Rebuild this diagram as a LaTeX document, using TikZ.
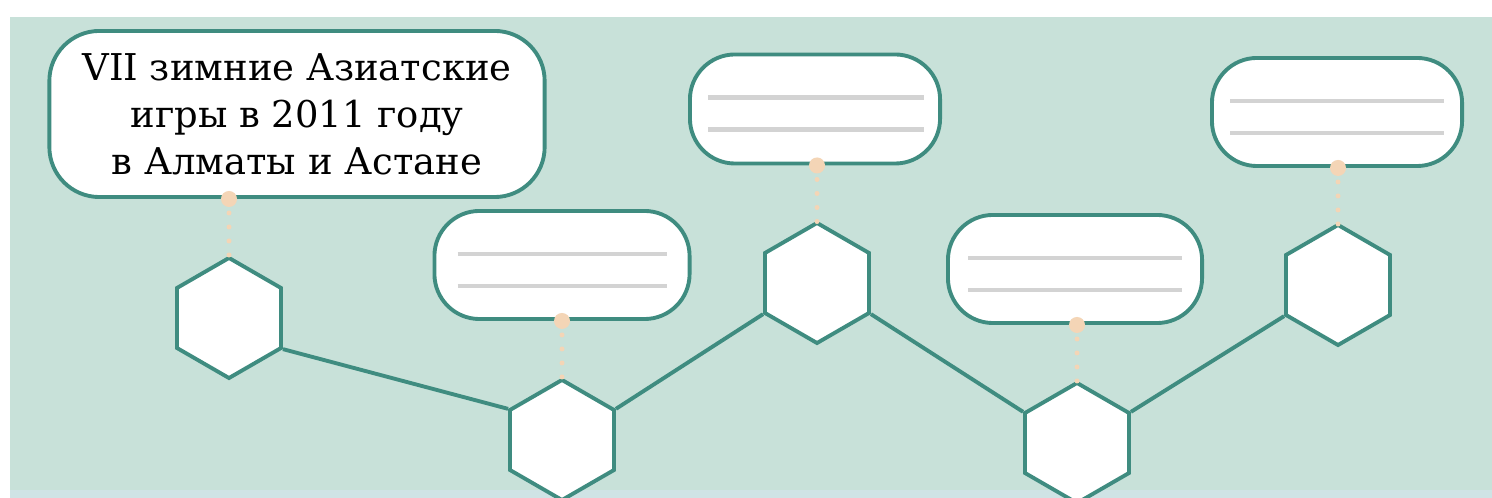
\documentclass[tikz,border=0pt]{standalone}
\usepackage{fontspec}
\setmainfont{DejaVu Serif}
\usetikzlibrary{shapes.geometric}
\definecolor{panelbg}{HTML}{C8E1D9}
\definecolor{stripbg}{HTML}{CFE3E5}
\definecolor{tealline}{HTML}{3F8C80}
\definecolor{peach}{HTML}{F4D5B6}
\definecolor{rulegray}{HTML}{D3D3D3}
\begin{document}
\begin{tikzpicture}[x=0.01cm,y=-0.01cm,
  hexnode/.style={regular polygon, regular polygon sides=6, regular polygon rotate=30, minimum size=1.2cm, inner sep=0pt, draw=tealline, line width=1.1pt, fill=white},
  infobox/.style={rectangle, rounded corners=0.45cm, draw=tealline, line width=1.1pt, fill=white, align=center, inner sep=0pt},
  ruleline/.style={rulegray, line width=1.3pt},
  dotlink/.style={peach, line width=0.05cm, line cap=round, dash pattern=on 0pt off 0.14cm},
  link/.style={tealline, line width=1.1pt}]
\useasboundingbox (0,0) rectangle (1492,498);
\fill[panelbg] (10,17) rectangle (1492,490);
\fill[stripbg] (10,490) rectangle (1492,498);
% hexagons
\node[hexnode] (hex1) at (229,318){};
\node[hexnode] (hex2) at (562,440){};
\node[hexnode] (hex3) at (817,283){};
\node[hexnode] (hex4) at (1077,443){};
\node[hexnode] (hex5) at (1338,285){};
\draw[link](hex1.330) -- (hex2.150);
\draw[link](hex2.30) -- (hex3.210);
\draw[link](hex3.330) -- (hex4.150);
\draw[link](hex4.30) -- (hex5.210);
% boxes
\node[infobox, minimum width=4.95cm, minimum height=1.66cm, rounded corners=0.5cm, font=\fontsize{10.5}{13.4}\selectfont] (box1) at (297,114){VII зимние Азиатские\\игры в 2011 году\\в Алматы и Астане};
\node[infobox, minimum width=2.55cm, minimum height=1.08cm] (box2) at (562,265){};
\node[infobox, minimum width=2.5cm, minimum height=1.09cm] (box3) at (815,109){};
\node[infobox, minimum width=2.54cm, minimum height=1.08cm] (box4) at (1075,269){};
\node[infobox, minimum width=2.5cm, minimum height=1.08cm] (box5) at (1337,112){};
\draw[ruleline]([shift={(25,45)}]box2.north west) -- ([shift={(-25,45)}]box2.north east);
\draw[ruleline]([shift={(25,77)}]box2.north west) -- ([shift={(-25,77)}]box2.north east);
\draw[ruleline]([shift={(20,45)}]box3.north west) -- ([shift={(-18,45)}]box3.north east);
\draw[ruleline]([shift={(20,77)}]box3.north west) -- ([shift={(-18,77)}]box3.north east);
\draw[ruleline]([shift={(22,45)}]box4.north west) -- ([shift={(-22,45)}]box4.north east);
\draw[ruleline]([shift={(22,77)}]box4.north west) -- ([shift={(-22,77)}]box4.north east);
\draw[ruleline]([shift={(20,45)}]box5.north west) -- ([shift={(-20,45)}]box5.north east);
\draw[ruleline]([shift={(20,77)}]box5.north west) -- ([shift={(-20,77)}]box5.north east);
% dotted ties
\foreach \b/\h in {box1/hex1, box2/hex2, box3/hex3, box4/hex4, box5/hex5}{
  \draw[dotlink](\h.north |- \b.south) -- ([yshift=-0.06cm]\h.north);
  \fill[peach](\h.north |- \b.south) circle (0.08cm);
}
\end{tikzpicture}
\end{document}
